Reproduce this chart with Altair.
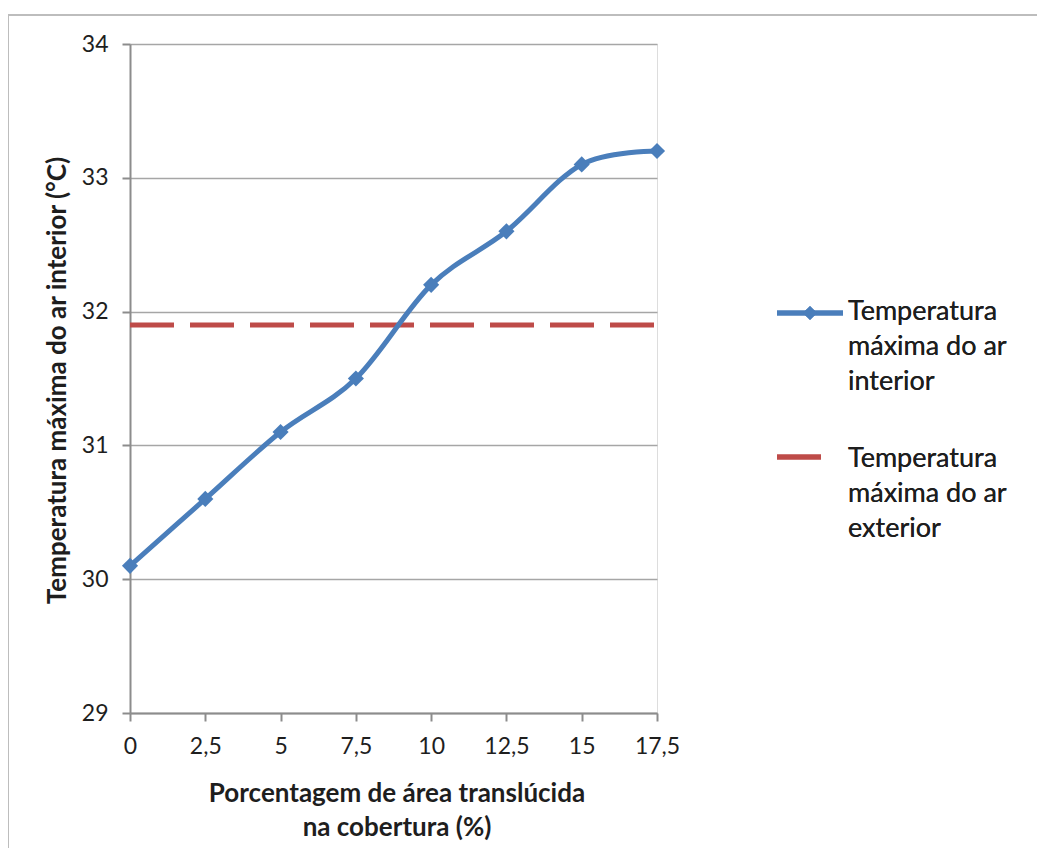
import altair as alt
import pandas as pd

# ---- data ----
pct = [0, 2.5, 5, 7.5, 10, 12.5, 15, 17.5]
t_interior = [30.1, 30.6, 31.1, 31.5, 32.2, 32.6, 33.1, 33.2]
t_exterior = [31.9, 31.9]
ext_x = [0, 17.5]
x_ticks = [0, 2.5, 5, 7.5, 10, 12.5, 15, 17.5]
y_ticks = [29, 30, 31, 32, 33, 34]
legend_interior = ["Temperatura", "máxima do ar", "interior"]
legend_exterior = ["Temperatura", "máxima do ar", "exterior"]
x_title = ["Porcentagem de área translúcida", "na cobertura (%)"]
y_title = "Temperatura máxima do ar interior (°C)"

BLUE = "#4A7EBB"
RED = "#BE4B48"
FONT = "Lato"
TXT = "#1E1E1E"

df_int = pd.DataFrame({"x": pct, "y": t_interior})
df_ext = pd.DataFrame({"x": ext_x, "y": t_exterior})

W, H = 527, 669

xenc = alt.X(
    "x:Q",
    scale=alt.Scale(domain=[0, 17.5], nice=False, zero=False),
    axis=alt.Axis(
        values=x_ticks,
        labelExpr="replace(format(datum.value, '.1~f'), '.', ',')",
        labelFlush=False,
        labelOverlap=False,
        grid=False,
        domainColor="#8C8C8C",
        domainWidth=2,
        tickColor="#8C8C8C",
        tickWidth=2,
        tickSize=8,
        labelPadding=14,
        labelFont=FONT,
        labelFontSize=23,
        labelColor=TXT,
        title=x_title,
        titleFont=FONT,
        titleFontSize=26,
        titleFontWeight="bold",
        titleColor=TXT,
        titleLineHeight=34,
        titleBaseline="alphabetic",
        titleX=W / 2 + 3,
        titleY=88,
        titleAnchor="middle",
    ),
)
yenc = alt.Y(
    "y:Q",
    scale=alt.Scale(domain=[29, 34], nice=False, zero=False),
    axis=alt.Axis(
        values=y_ticks,
        labelFlush=False,
        grid=True,
        gridColor="#A6A6A6",
        gridWidth=1.5,
        domainColor="#8C8C8C",
        domainWidth=2,
        tickColor="#8C8C8C",
        tickWidth=2,
        tickSize=8,
        labelPadding=14,
        labelFont=FONT,
        labelFontSize=23,
        labelColor=TXT,
        title=y_title,
        titleFont=FONT,
        titleFontSize=26,
        titleFontWeight="bold",
        titleColor=TXT,
        titleBaseline="middle",
        titleAngle=270,
        titleX=-73,
        titleY=336,
        titleAnchor="middle",
    ),
)

interior_line = alt.Chart(df_int).mark_line(
    interpolate="cardinal", color=BLUE, strokeWidth=5
).encode(x=xenc, y=yenc)

interior_pts = alt.Chart(df_int).mark_point(
    shape="diamond", filled=True, color=BLUE, size=260, opacity=1
).encode(x=xenc, y=yenc)

exterior_line = alt.Chart(df_ext).mark_line(
    color=RED, strokeWidth=5, strokeDash=[44, 16]
).encode(x=xenc, y=yenc)

# ---- outer border (light gray, like the Excel chart frame) ----
border_left = alt.Chart(df_ext).mark_rule(color="#BDBDBD", strokeWidth=2).encode(
    x=alt.value(-122), y=alt.value(-29), y2=alt.value(H + 200)
)
border_top = alt.Chart(df_ext).mark_rule(color="#BDBDBD", strokeWidth=2).encode(
    x=alt.value(-122), x2=alt.value(W + 400), y=alt.value(-29)
)

# ---- legend ----
leg_line1 = alt.Chart(df_ext).mark_rule(color=BLUE, strokeWidth=5).encode(
    x=alt.value(647), x2=alt.value(713), y=alt.value(269)
)
leg_pt1 = alt.Chart(df_ext).mark_point(
    shape="diamond", filled=True, color=BLUE, size=200, opacity=1
).encode(x=alt.value(680), y=alt.value(269))
leg_line2 = alt.Chart(df_ext).mark_rule(color=RED, strokeWidth=5).encode(
    x=alt.value(647), x2=alt.value(691), y=alt.value(413)
)
leg_txt1 = alt.Chart(df_ext).mark_text(
    align="left", baseline="alphabetic", font=FONT, fontSize=27,
    color=TXT, lineHeight=35
).encode(x=alt.value(718), y=alt.value(276), text=alt.value(legend_interior))
leg_txt2 = alt.Chart(df_ext).mark_text(
    align="left", baseline="alphabetic", font=FONT, fontSize=27,
    color=TXT, lineHeight=35
).encode(x=alt.value(718), y=alt.value(423), text=alt.value(legend_exterior))

chart = alt.layer(
    border_left, border_top,
    exterior_line, interior_line, interior_pts,
    leg_line1, leg_pt1, leg_line2, leg_txt1, leg_txt2,
).properties(
    width=W, height=H,
    autosize=alt.AutoSizeParams(type="none"),
    padding={"left": 122, "top": 36, "right": 380, "bottom": 135},
).configure_view(stroke=None).configure(background="white")

chart.save("out.html", embed_options={"renderer": "svg", "actions": False})
